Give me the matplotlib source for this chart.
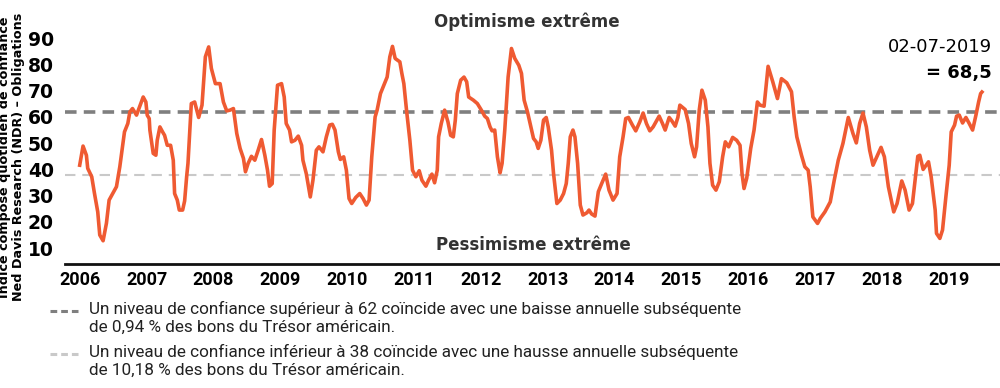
import matplotlib.pyplot as plt
from matplotlib.lines import Line2D

# decimal years / index values
years = [2006.00, 2006.05, 2006.10, 2006.12, 2006.18, 2006.22, 2006.27, 2006.30, 2006.35, 2006.40,
         2006.44, 2006.55, 2006.60, 2006.67, 2006.72, 2006.75, 2006.79, 2006.85, 2006.95, 2006.99,
         2007.01, 2007.04, 2007.05, 2007.10, 2007.14, 2007.16, 2007.20, 2007.24, 2007.27, 2007.31,
         2007.36, 2007.40, 2007.42, 2007.46, 2007.49, 2007.54, 2007.57, 2007.60, 2007.62, 2007.65,
         2007.67, 2007.72, 2007.78, 2007.83, 2007.88, 2007.93, 2007.97, 2008.03, 2008.10, 2008.15,
         2008.20, 2008.25, 2008.30, 2008.35, 2008.40, 2008.45, 2008.48, 2008.52, 2008.57, 2008.62,
         2008.67, 2008.72, 2008.77, 2008.81, 2008.84, 2008.88, 2008.91, 2008.96, 2009.02, 2009.06,
         2009.09, 2009.14, 2009.17, 2009.22, 2009.27, 2009.32, 2009.34, 2009.39, 2009.45, 2009.49,
         2009.54, 2009.58, 2009.64, 2009.69, 2009.74, 2009.78, 2009.82, 2009.87, 2009.90, 2009.95,
         2009.99, 2010.03, 2010.07, 2010.13, 2010.19, 2010.24, 2010.29, 2010.33, 2010.37, 2010.42,
         2010.45, 2010.50, 2010.55, 2010.60, 2010.64, 2010.68, 2010.72, 2010.79, 2010.82, 2010.85,
         2010.89, 2010.94, 2010.98, 2011.03, 2011.08, 2011.12, 2011.18, 2011.22, 2011.27, 2011.31,
         2011.35, 2011.37, 2011.41, 2011.46, 2011.51, 2011.55, 2011.59, 2011.62, 2011.65, 2011.70,
         2011.75, 2011.79, 2011.82, 2011.89, 2011.95, 2012.01, 2012.06, 2012.10, 2012.14, 2012.17,
         2012.21, 2012.25, 2012.29, 2012.32, 2012.36, 2012.41, 2012.46, 2012.51, 2012.57, 2012.61,
         2012.65, 2012.70, 2012.75, 2012.79, 2012.83, 2012.86, 2012.90, 2012.94, 2012.98, 2013.01,
         2013.06, 2013.09, 2013.14, 2013.19, 2013.24, 2013.28, 2013.31, 2013.34, 2013.38, 2013.41,
         2013.45, 2013.49, 2013.53, 2013.59, 2013.62, 2013.66, 2013.71, 2013.76, 2013.81, 2013.87,
         2013.92, 2013.98, 2014.04, 2014.08, 2014.13, 2014.17, 2014.21, 2014.27, 2014.32, 2014.38,
         2014.43, 2014.48, 2014.53, 2014.58, 2014.67, 2014.72, 2014.76, 2014.82, 2014.86, 2014.91,
         2014.95, 2014.98, 2015.06, 2015.11, 2015.15, 2015.20, 2015.23, 2015.27, 2015.31, 2015.36,
         2015.40, 2015.43, 2015.47, 2015.52, 2015.57, 2015.62, 2015.66, 2015.71, 2015.77, 2015.83,
         2015.88, 2015.91, 2015.94, 2015.98, 2016.04, 2016.09, 2016.14, 2016.18, 2016.24, 2016.30,
         2016.37, 2016.44, 2016.50, 2016.58, 2016.65, 2016.69, 2016.73, 2016.80, 2016.85, 2016.90,
         2016.93, 2016.97, 2017.04, 2017.08, 2017.15, 2017.23, 2017.29, 2017.35, 2017.42, 2017.50,
         2017.57, 2017.62, 2017.67, 2017.72, 2017.77, 2017.82, 2017.87, 2017.93, 2017.99, 2018.04,
         2018.10, 2018.18, 2018.23, 2018.30, 2018.35, 2018.41, 2018.46, 2018.54, 2018.57, 2018.62,
         2018.70, 2018.74, 2018.80, 2018.82, 2018.87, 2018.91, 2018.96, 2019.01, 2019.04, 2019.09,
         2019.12, 2019.16, 2019.21, 2019.26, 2019.31, 2019.36, 2019.41, 2019.45, 2019.48, 2019.50]
values = [41.6, 48.9, 45.4, 40.4, 37.2, 31.0, 23.8, 15.0, 12.8, 19.5,
          28.3, 33.4, 41.0, 54.3, 57.5, 61.9, 63.2, 60.7, 67.6, 65.7,
          60.7, 59.4, 55.0, 46.1, 45.4, 51.1, 56.2, 54.3, 53.0, 49.2,
          49.2, 43.5, 30.8, 28.3, 24.5, 24.5, 28.0, 37.2, 42.3, 56.2,
          65.1, 65.7, 59.8, 64.5, 82.9, 86.7, 78.5, 72.7, 72.7, 65.7,
          62.3, 62.6, 63.2, 53.7, 48.0, 44.2, 39.1, 42.3, 45.0, 43.5,
          47.3, 51.4, 45.4, 39.7, 33.6, 34.6, 55.0, 72.1, 72.7, 67.6,
          57.5, 55.0, 50.5, 51.1, 52.7, 49.2, 43.5, 38.4, 29.5, 35.9,
          47.3, 48.6, 46.7, 52.4, 56.9, 57.2, 55.0, 46.7, 43.8, 44.8,
          39.7, 28.9, 27.0, 29.3, 30.8, 28.9, 26.4, 28.3, 44.8, 60.0,
          62.6, 68.9, 72.1, 75.2, 82.9, 86.9, 82.3, 81.0, 76.6, 72.7,
          62.6, 51.1, 39.7, 37.2, 39.5, 35.9, 33.6, 35.9, 38.2, 34.9,
          39.7, 52.4, 57.5, 62.6, 58.1, 53.0, 52.4, 58.8, 68.9, 74.0,
          75.2, 73.4, 67.6, 66.4, 65.1, 62.6, 60.3, 59.4, 56.2, 54.7,
          55.0, 44.8, 38.7, 42.3, 55.0, 75.2, 86.1, 82.3, 79.7, 76.6,
          66.4, 61.9, 56.2, 51.8, 50.5, 48.0, 51.1, 58.8, 59.8, 56.2,
          47.3, 38.4, 27.0, 28.3, 30.8, 34.6, 42.3, 52.4, 55.0, 52.4,
          42.3, 26.4, 22.6, 23.5, 24.5, 23.0, 22.2, 31.5, 34.6, 38.2,
          32.1, 28.3, 30.8, 44.8, 52.4, 59.4, 59.8, 56.9, 54.7, 58.1,
          61.5, 57.5, 54.7, 56.2, 60.3, 57.5, 55.0, 59.8, 58.5, 56.5,
          59.8, 64.5, 62.8, 57.5, 49.9, 44.8, 48.6, 62.6, 70.2, 66.4,
          56.2, 42.3, 34.0, 32.1, 35.3, 44.8, 50.5, 48.6, 52.2, 51.1,
          49.2, 38.4, 32.7, 36.6, 48.0, 55.0, 65.7, 64.5, 64.1, 79.3,
          73.4, 67.0, 74.6, 73.0, 69.6, 60.0, 52.4, 45.4, 41.0, 39.7,
          33.4, 21.9, 19.4, 21.3, 23.8, 27.6, 35.9, 43.5, 49.9, 59.8,
          53.7, 50.1, 57.5, 61.5, 56.2, 47.3, 41.6, 45.0, 48.4, 44.8,
          33.4, 23.8, 27.0, 35.6, 32.1, 24.5, 27.0, 45.0, 45.4, 40.0,
          42.9, 37.2, 24.5, 15.6, 13.7, 16.9, 29.5, 41.6, 54.3, 56.9,
          60.3, 60.7, 57.7, 59.8, 57.5, 55.0, 60.7, 65.7, 68.9, 69.5]

year_ticks = list(range(2006, 2020))
y_ticks = [10, 20, 30, 40, 50, 60, 70, 80, 90]
upper_level = 62
lower_level = 38

orange = "#ef5a32"
dark_grey = "#7f7f7f"
light_grey = "#c9c9c9"
txt = "#222222"

fig = plt.figure(figsize=(10, 3.88), dpi=100)
ax = fig.add_axes([0.065, 0.32, 0.935, 0.6355])

ax.axhline(upper_level, color=dark_grey, lw=2.6, ls=(0, (3.2, 2.0)), zorder=1)
ax.axhline(lower_level, color=light_grey, lw=1.5, ls=(0, (5, 3.3)), zorder=1)
ax.plot(years, values, color=orange, lw=2.6, zorder=3, solid_joinstyle="round")

ax.set_xlim(2005.78, 2019.77)
ax.set_ylim(4, 98)
ax.set_xticks(year_ticks)
ax.set_xticklabels([str(y) for y in year_ticks], fontsize=13, fontweight="bold",
                   color="black", family="Roboto")
ax.set_yticks(y_ticks)
ax.set_yticklabels([str(v) for v in y_ticks], fontsize=13.5, fontweight="bold", color="black")
ax.tick_params(axis="both", length=0)
ax.tick_params(axis="x", pad=5)
ax.tick_params(axis="y", pad=8)
for s in ["top", "right", "left"]:
    ax.spines[s].set_visible(False)
ax.spines["bottom"].set_linewidth(2)
ax.spines["bottom"].set_color("#111111")

fig.text(0.527, 1 - 22 / 388, "Optimisme extrême", ha="center", va="center",
         fontsize=12, fontweight="bold", color="#333333")
fig.text(0.533, 1 - 245 / 388, "Pessimisme extrême", ha="center", va="center",
         fontsize=12, fontweight="bold", color="#333333")

fig.text(0.992, 1 - 47 / 388, "02-07-2019", ha="right", va="center", fontsize=13, color="black")
fig.text(0.992, 1 - 73 / 388, "= 68,5", ha="right", va="center", fontsize=13,
         fontweight="bold", color="black")

fig.text(0.012, 1 - 157 / 388,
         "Indice composé quotidien de confiance\nNed Davis Research (NDR) – Obligations",
         rotation=90, ha="center", va="center", fontsize=9.2, fontweight="bold",
         color="black", linespacing=1.1)

# legend below the chart
fig.add_artist(Line2D([0.050, 0.078], [1 - 311 / 388] * 2, color=dark_grey, lw=2.2,
                      ls=(0, (2.2, 1.3))))
fig.add_artist(Line2D([0.050, 0.078], [1 - 354 / 388] * 2, color=light_grey, lw=2.2,
                      ls=(0, (2.2, 1.3))))
fig.text(0.089, 1 - 301 / 388,
         "Un niveau de confiance supérieur à 62 coïncide avec une baisse annuelle subséquente\n"
         "de 0,94 % des bons du Trésor américain.",
         ha="left", va="top", fontsize=12.3, color=txt, linespacing=1.2, family="Roboto")
fig.text(0.089, 1 - 344 / 388,
         "Un niveau de confiance inférieur à 38 coïncide avec une hausse annuelle subséquente\n"
         "de 10,18 % des bons du Trésor américain.",
         ha="left", va="top", fontsize=12.3, color=txt, linespacing=1.2, family="Roboto")

fig.savefig("out.png", dpi=100)
